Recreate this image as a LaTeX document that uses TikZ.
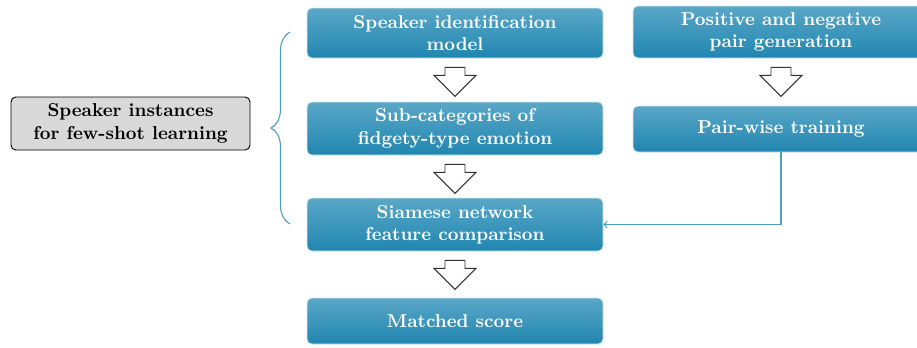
\documentclass[tikz,border=0pt]{standalone}
\usetikzlibrary{calc,decorations.pathreplacing}
\definecolor{boxtop}{HTML}{5AA7C7}
\definecolor{boxbot}{HTML}{2086B0}
\definecolor{boxedge}{HTML}{D4E8F1}
\definecolor{linkblue}{HTML}{4C9EC4}
\definecolor{graybox}{HTML}{D9D9D9}
\begin{document}
\begin{tikzpicture}[x=0.5365pt,y=-0.5365pt,
  bluebox/.style={rectangle, rounded corners=2.6pt, top color=boxtop, bottom color=boxbot,
    draw=boxedge, line width=0.4pt, text=white, font=\bfseries, align=center,
    minimum width=296*0.5365pt, inner sep=0pt},
  greybox/.style={rectangle, rounded corners=2.6pt, fill=graybox, draw=black, line width=0.5pt,
    font=\bfseries, align=center, minimum width=239*0.5365pt, minimum height=53*0.5365pt, inner sep=0pt},
  hollowst/.style={draw=black!80, fill=white, line width=0.5pt, line join=miter},
  link/.style={draw=linkblue, line width=0.6pt, ->}]
\useasboundingbox (0,0) rectangle (917,347);
\node[greybox] (g) at (130.5,123.5) {Speaker instances\\for few-shot learning};
\node[bluebox, minimum height=50*0.5365pt] (b1) at (455,33) {Speaker identification\\model};
\node[bluebox, minimum height=53*0.5365pt] (b2) at (455,128.5) {Sub-categories of\\fidgety-type emotion};
\node[bluebox, minimum height=53*0.5365pt] (b3) at (455,224.5) {Siamese network\\feature comparison};
\node[bluebox, minimum height=46*0.5365pt] (b4) at (455,321) {Matched score};
\node[bluebox, minimum height=52*0.5365pt] (a1) at (781,32) {Positive and negative\\pair generation};
\node[bluebox, minimum height=46*0.5365pt] (a2) at (781,129) {Pair-wise training};
\newcommand{\hollowdown}[1]{%
  \draw[hollowst] ($(#1.south)+(-10,9)$) -- ++(0,8) -- ++(-11,0) -- ($(#1.south)+(0,38)$)
    -- ($(#1.south)+(21,17)$) -- ++(-11,0) -- ++(0,-8) -- cycle;}
\hollowdown{b1}
\hollowdown{b2}
\hollowdown{b3}
\hollowdown{a1}
\coordinate (bt) at (290,224);
\coordinate (bb) at (290,32);
\draw[linkblue, line width=0.6pt, decorate, decoration={brace, amplitude=19*0.5365pt}] (bt) -- (bb);
\draw[link] (a2.south) |- (b3.east);
\end{tikzpicture}
\end{document}
